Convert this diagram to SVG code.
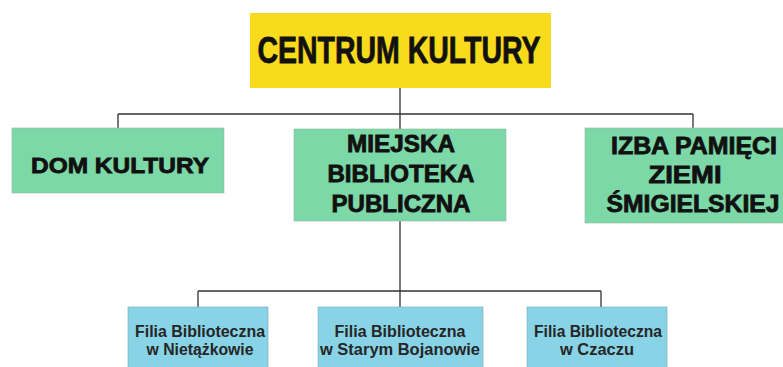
<svg xmlns="http://www.w3.org/2000/svg" width="783" height="367" viewBox="0 0 783 367">
<style>
.conn{stroke:#333;stroke-width:1.3;fill:none}
.yel{fill:#F9DB1D}
.grn{fill:#7DD8A8;stroke:#8fb8a0;stroke-width:0.6}
.blu{fill:#88D3E6;stroke:#7aa9b8;stroke-width:0.6}
.big{font-family:"Liberation Sans",Arial,sans-serif;font-weight:bold;fill:#111;stroke:#111;stroke-width:0.8;text-anchor:middle}
.sm{font-family:"Liberation Sans",Arial,sans-serif;font-weight:bold;font-size:16px;fill:#262626;text-anchor:middle}
</style>
<rect width="783" height="367" fill="#fff"/>
<g id="connectors">
<path class="conn" d="M400 88V114M118 114H693M118 114V128M693 114V128M400 114V129"/>
<path class="conn" d="M400 221V291M198 291H601M198 291V307M400 291V307M601 291V307"/>
</g>
<g id="centrum">
<rect class="yel" x="250" y="13" width="301" height="75"/>
<text class="big" x="399" y="63" font-size="37" textLength="283" lengthAdjust="spacingAndGlyphs">CENTRUM KULTURY</text>
</g>
<g id="dom">
<rect class="grn" x="12" y="128" width="212" height="65"/>
<text class="big" x="120" y="173" font-size="22" textLength="178" lengthAdjust="spacingAndGlyphs">DOM KULTURY</text>
</g>
<g id="biblioteka">
<rect class="grn" x="294" y="129" width="212" height="92"/>
<text class="big" x="401" y="152" font-size="23" textLength="108" lengthAdjust="spacingAndGlyphs">MIEJSKA</text>
<text class="big" x="401" y="182" font-size="23" textLength="147" lengthAdjust="spacingAndGlyphs">BIBLIOTEKA</text>
<text class="big" x="401" y="212" font-size="23" textLength="139" lengthAdjust="spacingAndGlyphs">PUBLICZNA</text>
</g>
<g id="izba">
<rect class="grn" x="585" y="128" width="215" height="95"/>
<text class="big" x="694" y="154" font-size="23" textLength="166" lengthAdjust="spacingAndGlyphs">IZBA PAMIĘCI</text>
<text class="big" x="685" y="183" font-size="23" textLength="73" lengthAdjust="spacingAndGlyphs">ZIEMI</text>
<text class="big" x="693" y="212" font-size="23" textLength="173" lengthAdjust="spacingAndGlyphs">ŚMIGIELSKIEJ</text>
</g>
<g id="filia1">
<rect class="blu" x="128" y="307" width="140" height="65"/>
<text class="sm" x="200" y="337" textLength="130" lengthAdjust="spacingAndGlyphs">Filia Biblioteczna</text>
<text class="sm" x="200" y="355" textLength="107" lengthAdjust="spacingAndGlyphs">w Nietążkowie</text>
</g>
<g id="filia2">
<rect class="blu" x="318" y="307" width="165" height="65"/>
<text class="sm" x="400" y="337" textLength="131" lengthAdjust="spacingAndGlyphs">Filia Biblioteczna</text>
<text class="sm" x="400" y="355" textLength="160" lengthAdjust="spacingAndGlyphs">w Starym Bojanowie</text>
</g>
<g id="filia3">
<rect class="blu" x="527" y="307" width="140" height="65"/>
<text class="sm" x="598" y="337" textLength="128" lengthAdjust="spacingAndGlyphs">Filia Biblioteczna</text>
<text class="sm" x="597" y="355" textLength="74" lengthAdjust="spacingAndGlyphs">w Czaczu</text>
</g>
</svg>
